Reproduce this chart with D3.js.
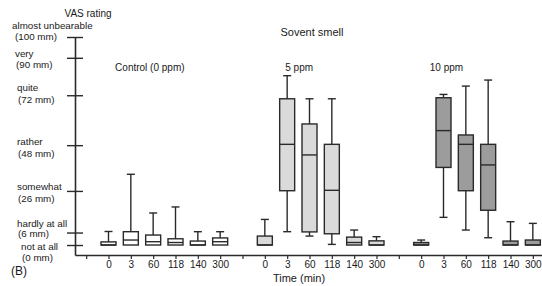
<!DOCTYPE html>
<html>
<head>
<meta charset="utf-8">
<script src="https://cdn.jsdelivr.net/npm/d3@7/dist/d3.min.js"></script>
<style>
  body { margin: 0; background: #fff; }
  text { font-family: "Liberation Sans", Arial, sans-serif; fill: #1a1a1a; }
</style>
</head>
<body>
<svg id="chart" width="542" height="286"></svg>
<script>
'use strict';

// Time after start of exposure (min), same for every session
var times = ['0', '3', '60', '118', '140', '300'];
var sessions = ['Control (0 ppm)', '5 ppm', '10 ppm'];

// Box stats per time point: [min, q1, median, q3, max] in VAS mm
var control = [[0, 0, 0, 1.5, 6.5], [0, 0, 2.4, 6.4, 34], [0, 0, 1.6, 4.8, 15.4],
               [0, 0, 1.2, 3, 18.3], [0, 0, 0, 1.9, 6.4], [0, 0, 1.6, 3.4, 6.4]];
var ppm5 = [[0, 0, 0, 4.3, 12.3], [6.4, 26.1, 48.4, 70.3, 81.4], [4.3, 6.3, 43.3, 58.2, 70.3],
            [0.3, 5.4, 26.3, 48.4, 70.3], [0, 0, 1.2, 3.8, 7.2], [0, 0, 0, 2, 4]];
var ppm10 = [[0, 0, 0, 1.2, 2.4], [13.3, 37.3, 55, 70.8, 72.4], [7.2, 26.1, 48.4, 52.9, 76.4],
             [3.5, 16.7, 38.5, 48.4, 79.3], [0, 0, 0, 1.9, 11.2], [0, 0, 0, 2.4, 10.4]];

// VAS anchor words
var vasTicks = [0, 6, 26, 48, 72, 90, 100];
var vasWords = ['not at all', 'hardly at all', 'somewhat', 'rather', 'quite', 'very', 'almost unbearable'];

var fills = ['#ffffff', '#dadada', '#9c9c9c'];
var stats = [control, ppm5, ppm10];

var svg = d3.select('#chart');
var ink = '#2a2a2a';

// one empty slot before each session, then the six time points
var slots = [];
sessions.forEach(function(s, si) {
  slots.push({ key: 'gap' + si, label: '' });
  times.forEach(function(t) { slots.push({ key: si + '|' + t, label: t }); });
});

var x = d3.scalePoint()
  .domain(slots.map(function(d) { return d.key; }))
  .range([75, 544])
  .padding(0.5);

var y = d3.scaleLinear().domain([-4.8, 100]).range([255, 37]);

// x axis
var xAxis = svg.append('g')
  .attr('transform', 'translate(0,255)')
  .call(d3.axisBottom(x).tickSize(4).tickSizeOuter(0)
    .tickFormat(function(k) { return slots.find(function(d) { return d.key === k; }).label; }));
xAxis.select('.domain').attr('stroke', ink).attr('stroke-width', 1.4);
xAxis.selectAll('.tick line').attr('stroke', ink).attr('stroke-width', 1.2);
xAxis.selectAll('.tick text').attr('dy', 0).attr('y', 12.5)
  .style('font-family', '"Liberation Sans", Arial, sans-serif').style('font-size', '10px').attr('fill', '#1a1a1a');

// y axis, ticks crossing the line
var yAxis = svg.append('g')
  .attr('transform', 'translate(75,0)')
  .call(d3.axisLeft(y).tickValues(vasTicks).tickSize(8).tickSizeOuter(0).tickFormat(''));
yAxis.select('.domain').attr('stroke', ink).attr('stroke-width', 1.6);
yAxis.selectAll('.tick line').attr('x1', 8).attr('x2', -8).attr('stroke', ink).attr('stroke-width', 1.4);

// two-line anchor labels: word over "(n mm)"  [x, dy word, dy unit]
var labelPos = { 100: [12, -8, 3], 90: [15, -1, 10.5], 72: [17, -4, 7.5], 48: [17, 0, 11.5],
                 26: [17, -1, 11.5], 6: [17, -6, 4.5], 0: [21, 4.5, 16] };
var anchors = svg.append('g').attr('font-size', 9.8);
vasTicks.forEach(function(v, i) {
  var p = labelPos[v];
  anchors.append('text').attr('x', p[0]).attr('y', y(v) + p[1]).text(vasWords[i]);
  anchors.append('text').attr('x', p[0] + (v === 100 ? 3 : 1)).attr('y', y(v) + p[2]).text('(' + v + ' mm)');
});

svg.append('text').attr('x', 88).attr('y', 17).attr('text-anchor', 'middle')
  .attr('font-size', 10).text('VAS rating');
svg.append('text').attr('x', 312).attr('y', 36).attr('text-anchor', 'middle')
  .attr('font-size', 11).text('Sovent smell');
svg.append('text').attr('x', 299).attr('y', 282).attr('text-anchor', 'middle')
  .attr('font-size', 11).text('Time (min)');
svg.append('text').attr('x', 11).attr('y', 275).attr('font-size', 12).text('(B)');

// session titles, placed near their time points
var titleAt = [['3', 19], ['3', 12], ['3', 3]];
sessions.forEach(function(s, si) {
  svg.append('text')
    .attr('x', x(si + '|' + titleAt[si][0]) + titleAt[si][1])
    .attr('y', 70.5)
    .attr('text-anchor', 'middle')
    .attr('font-size', 10)
    .text(s);
});

// boxes
var bw = 15, cw = 8;
sessions.forEach(function(s, si) {
  var g = svg.append('g').attr('stroke', ink).attr('stroke-width', 1.4);
  stats[si].forEach(function(d, ti) {
    var cx = x(si + '|' + times[ti]);
    var b = g.append('g');
    // upper whisker
    if (d[4] > d[3]) {
      b.append('line').attr('x1', cx).attr('x2', cx).attr('y1', y(d[3])).attr('y2', y(d[4]));
      b.append('line').attr('x1', cx - cw / 2).attr('x2', cx + cw / 2).attr('y1', y(d[4])).attr('y2', y(d[4]));
    }
    // lower whisker
    if (d[0] < d[1]) {
      b.append('line').attr('x1', cx).attr('x2', cx).attr('y1', y(d[1])).attr('y2', y(d[0]));
      b.append('line').attr('x1', cx - cw / 2).attr('x2', cx + cw / 2).attr('y1', y(d[0])).attr('y2', y(d[0]));
    }
    b.append('rect')
      .attr('x', cx - bw / 2).attr('width', bw)
      .attr('y', y(d[3])).attr('height', y(d[1]) - y(d[3]))
      .attr('fill', fills[si]);
    b.append('line').attr('x1', cx - bw / 2).attr('x2', cx + bw / 2)
      .attr('y1', y(d[2])).attr('y2', y(d[2]));
  });
});
</script>
</body>
</html>
